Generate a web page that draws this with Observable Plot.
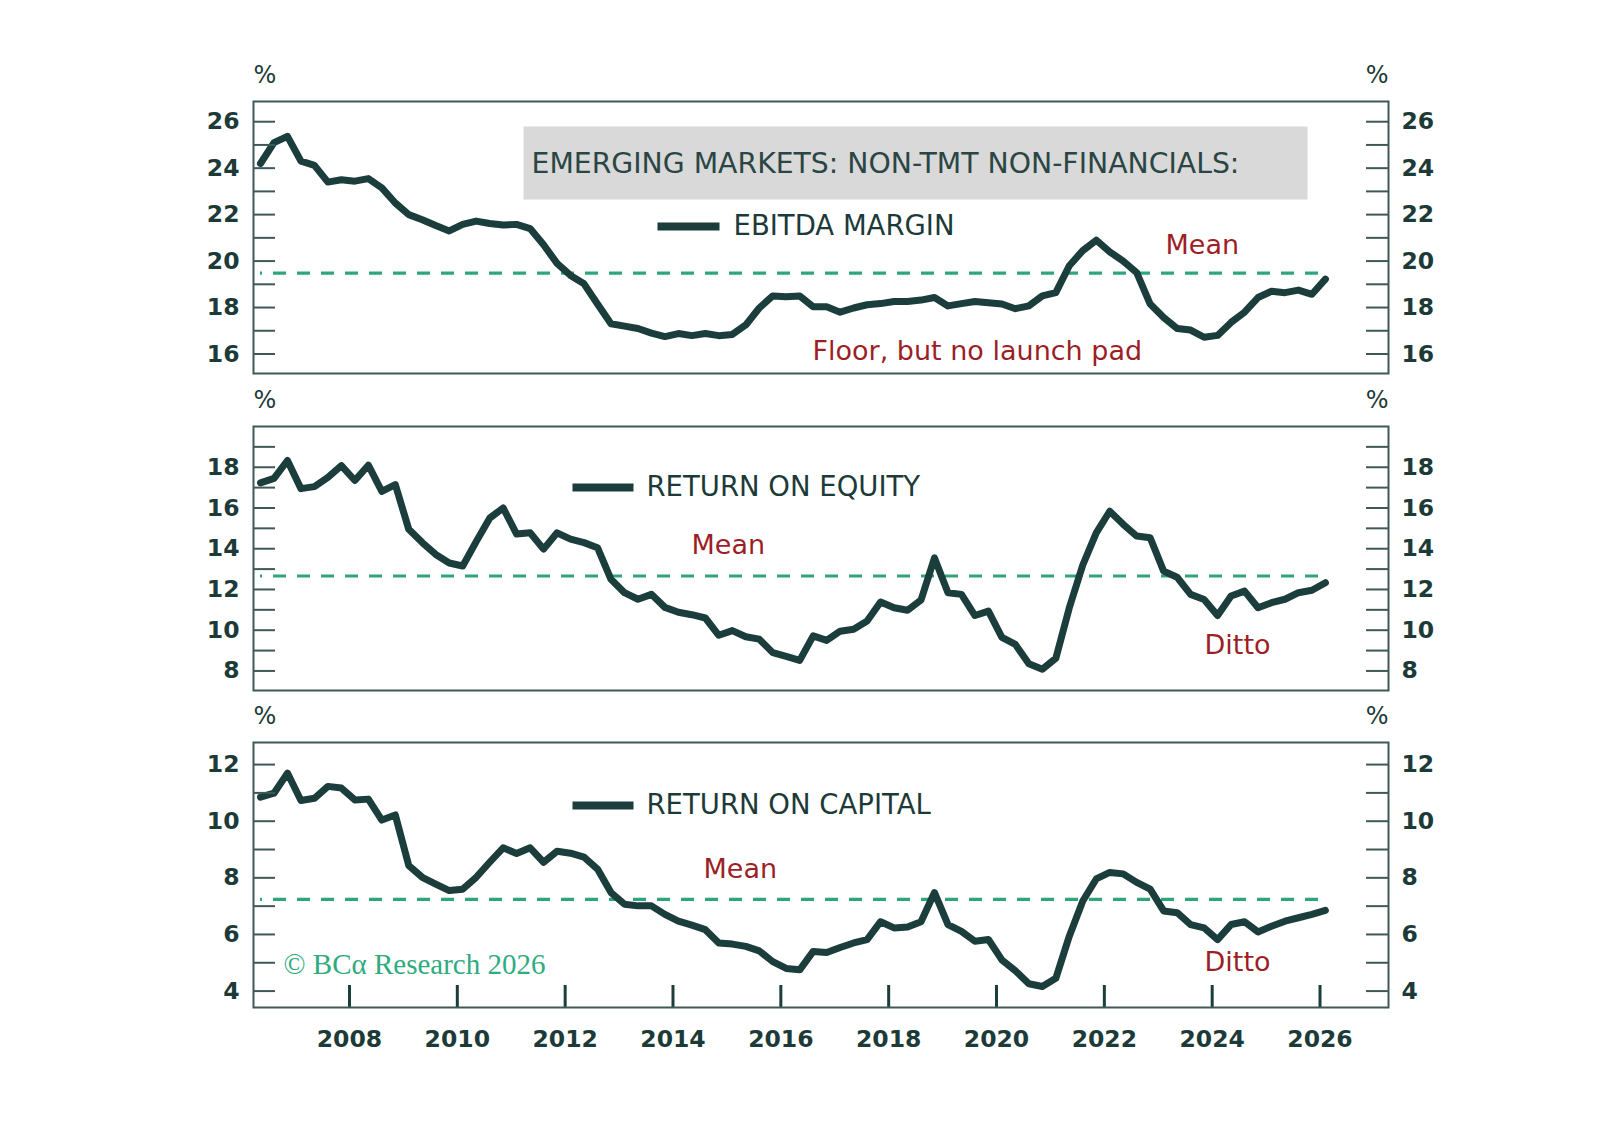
<!DOCTYPE html>
<html><head><meta charset="utf-8">
<script src="https://cdn.jsdelivr.net/npm/d3@7"></script>
<script src="https://cdn.jsdelivr.net/npm/@observablehq/plot@0.6"></script>
<style>
body{margin:0;background:#fff;}
#wrap{position:relative;width:1598px;height:1144px;background:#fff;overflow:hidden;}
#wrap svg{position:absolute;left:0;background:transparent;}
</style></head><body><div id="wrap"></div>
<script>
// ---- data (decimal years, quarterly) ----
const dates = [2006.35,2006.6,2006.85,2007.1,2007.35,2007.6,2007.85,2008.1,2008.35,2008.6,2008.85,2009.1,2009.35,2009.6,2009.85,2010.1,2010.35,2010.6,2010.85,2011.1,2011.35,2011.6,2011.85,2012.1,2012.35,2012.6,2012.85,2013.1,2013.35,2013.6,2013.85,2014.1,2014.35,2014.6,2014.85,2015.1,2015.35,2015.6,2015.85,2016.1,2016.35,2016.6,2016.85,2017.1,2017.35,2017.6,2017.85,2018.1,2018.35,2018.6,2018.85,2019.1,2019.35,2019.6,2019.85,2020.1,2020.35,2020.6,2020.85,2021.1,2021.35,2021.6,2021.85,2022.1,2022.35,2022.6,2022.85,2023.1,2023.35,2023.6,2023.85,2024.1,2024.35,2024.6,2024.85,2025.1,2025.35,2025.6,2025.85,2026.1];
const ebitdaMargin = [24.2,25.1,25.37,24.3,24.12,23.4,23.5,23.44,23.55,23.15,22.5,22.0,21.78,21.53,21.3,21.58,21.72,21.62,21.55,21.58,21.4,20.7,19.9,19.38,19.02,18.15,17.3,17.2,17.1,16.9,16.75,16.88,16.79,16.88,16.79,16.84,17.25,17.98,18.5,18.46,18.5,18.03,18.03,17.8,17.98,18.12,18.17,18.26,18.26,18.32,18.43,18.07,18.17,18.26,18.21,18.15,17.95,18.07,18.5,18.64,19.8,20.45,20.9,20.4,20.0,19.5,18.15,17.57,17.1,17.03,16.72,16.8,17.36,17.8,18.43,18.7,18.64,18.75,18.57,19.22];
const returnOnEquity = [17.23,17.45,18.33,16.95,17.05,17.5,18.08,17.35,18.1,16.82,17.15,14.95,14.3,13.72,13.3,13.15,14.35,15.5,16.0,14.72,14.78,13.98,14.78,14.47,14.3,14.05,12.5,11.84,11.52,11.76,11.12,10.88,10.76,10.6,9.75,9.98,9.68,9.56,8.9,8.72,8.52,9.72,9.5,9.95,10.05,10.45,11.38,11.1,10.98,11.48,13.55,11.84,11.76,10.72,10.94,9.65,9.3,8.35,8.08,8.62,11.1,13.2,14.78,15.84,15.2,14.62,14.54,12.9,12.6,11.76,11.51,10.72,11.68,11.92,11.1,11.35,11.52,11.84,11.96,12.33];
const returnOnCapital = [10.85,10.99,11.7,10.73,10.81,11.23,11.17,10.75,10.78,10.04,10.22,8.43,8.02,7.78,7.55,7.6,8.02,8.55,9.06,8.86,9.06,8.55,8.94,8.87,8.73,8.31,7.48,7.07,7.01,7.01,6.71,6.47,6.33,6.17,5.7,5.66,5.58,5.42,5.04,4.8,4.75,5.4,5.36,5.54,5.7,5.82,6.45,6.23,6.26,6.45,7.48,6.35,6.11,5.76,5.82,5.1,4.72,4.26,4.16,4.45,5.94,7.18,7.96,8.19,8.14,7.84,7.6,6.83,6.77,6.35,6.23,5.82,6.35,6.45,6.09,6.29,6.47,6.59,6.71,6.85];
const means = [19.48, 12.66, 7.24];

const yMinor1 = [16,17,18,19,20,21,22,23,24,25,26];
const yLabels1 = [16,18,20,22,24,26];
const yMinor2 = [8,9,10,11,12,13,14,15,16,17,18,19];
const yLabels2 = [8,10,12,14,16,18];
const yMinor3 = [4,5,6,7,8,9,10,11,12];
const yLabels3 = [4,6,8,10,12];
const xLabels = [2008,2010,2012,2014,2016,2018,2020,2022,2024,2026];

const chartTitle = "EMERGING MARKETS: NON-TMT NON-FINANCIALS:";
const seriesNames = ["EBITDA MARGIN", "RETURN ON EQUITY", "RETURN ON CAPITAL"];
const notes1 = ["Mean", "Floor, but no launch pad"];
const notes2 = ["Mean", "Ditto"];
const notes3 = ["Mean", "Ditto"];
const unitLabel = "%";
const credit = "© BCα Research 2026";

// ---- style ----
const W = 1598, ML = 253, MR = 210;
const FW = W - ML - MR;
const lineColor = "#1b3d3b", textColor = "#1c3a38", frameColor = "#3e5957";
const meanColor = "#2ea57b", redColor = "#9c1f27", boxColor = "#d9d9d9", creditColor = "#2fab80";
const sans = "DejaVu Sans", serif = "Liberation Serif";
const xDomain = [2006.22, 2027.27];
const tickFont = 23.5;

const wrap = document.getElementById("wrap");

function txt(s, o) {
  return Plot.text([s], Object.assign({text: d => d, frameAnchor: "top-left", textAnchor: "start", lineAnchor: "middle", fontFamily: sans, fontSize: 27.5, fill: textColor}, o));
}

function panel(cfg) {
  const FH = cfg.height - cfg.mt - cfg.mb;
  const marks = [];
  if (cfg.box) marks.push(Plot.frame({fill: boxColor, stroke: null, ...cfg.box}));
  // legend swatch
  marks.push(Plot.frame({fill: lineColor, stroke: null, ...cfg.swatch}));
  marks.push(Plot.ruleY([{y: cfg.mean, x1: dates[0], x2: dates[dates.length - 1]}], {y: "y", x1: "x1", x2: "x2", stroke: meanColor, strokeWidth: 3.2, strokeDasharray: "13,11", strokeDashoffset: 11}));
  marks.push(Plot.line(cfg.values, {x: dates, y: d => d, stroke: lineColor, strokeWidth: 7, strokeLinejoin: "round", strokeLinecap: "round"}));
  marks.push(Plot.tickY(cfg.minor, {y: d => d, insetRight: FW - 22, stroke: frameColor, strokeWidth: 2}));
  marks.push(Plot.tickY(cfg.minor, {y: d => d, insetLeft: FW - 22, stroke: frameColor, strokeWidth: 2}));
  marks.push(Plot.axisY(cfg.labels, {anchor: "left", tickSize: 0, tickPadding: 14, tickFormat: d => String(d), fontFamily: sans, fontWeight: "bold", fontSize: tickFont, fill: textColor, label: null}));
  marks.push(Plot.axisY(cfg.labels, {anchor: "right", tickSize: 0, tickPadding: 13, tickFormat: d => String(d), fontFamily: sans, fontWeight: "bold", fontSize: tickFont, fill: textColor, label: null}));
  if (cfg.xaxis) {
    marks.push(Plot.tickX(xLabels, {x: d => d, insetTop: FH - 22, stroke: lineColor, strokeWidth: 3}));
    marks.push(Plot.axisX(xLabels, {anchor: "bottom", tickSize: 0, tickPadding: 23, tickFormat: d => String(d), fontFamily: sans, fontWeight: "bold", fontSize: tickFont, fill: textColor, label: null}));
  }
  marks.push(Plot.frame({stroke: frameColor, strokeWidth: 2}));
  marks.push(txt(unitLabel, {dx: 0, dy: -26, fontSize: 24}));
  marks.push(txt(unitLabel, {frameAnchor: "top-right", textAnchor: "end", dx: 0, dy: -26, fontSize: 24}));
  for (const t of cfg.texts) marks.push(t);
  const svg = Plot.plot({
    width: W, height: cfg.height,
    marginLeft: ML, marginRight: MR, marginTop: cfg.mt, marginBottom: cfg.mb,
    x: {domain: xDomain, ...(cfg.xaxis ? {} : {axis: null})},
    y: {domain: cfg.ydomain},
    marks
  });
  svg.style.top = cfg.top + "px";
  wrap.append(svg);
}

// Panel 1: frame 101..373
panel({
  top: 50, height: 333, mt: 51, mb: 10, ydomain: [15.16, 26.87], values: ebitdaMargin, mean: means[0],
  minor: yMinor1, labels: yLabels1,
  box: {insetLeft: 270, insetRight: 81, insetTop: 25, insetBottom: 174},
  swatch: {insetLeft: 404, insetRight: 669, insetTop: 121, insetBottom: 143},
  texts: [
    txt(chartTitle, {dx: 278, dy: 62, fontSize: 28.3, fill: "#2a4543"}),
    txt(seriesNames[0], {dx: 480, dy: 125}),
    txt(notes1[0], {dx: 912, dy: 144, fill: redColor, fontSize: 27}),
    txt(notes1[1], {dx: 559, dy: 250, fill: redColor, fontSize: 27})
  ]
});

// Panel 2: frame 426..690
panel({
  top: 385, height: 315, mt: 41, mb: 10, ydomain: [7.04, 20], values: returnOnEquity, mean: means[1],
  minor: yMinor2, labels: yLabels2,
  swatch: {insetLeft: 319, insetRight: 755, insetTop: 57, insetBottom: 199},
  texts: [
    txt(seriesNames[1], {dx: 393, dy: 61}),
    txt(notes2[0], {dx: 438, dy: 119, fill: redColor, fontSize: 27}),
    txt(notes2[1], {dx: 951, dy: 219, fill: redColor, fontSize: 27})
  ]
});

// Panel 3: frame 742..1007
panel({
  top: 700, height: 362, mt: 42, mb: 55, ydomain: [3.42, 12.78], values: returnOnCapital, mean: means[2],
  minor: yMinor3, labels: yLabels3, xaxis: true,
  swatch: {insetLeft: 319, insetRight: 755, insetTop: 59, insetBottom: 198},
  texts: [
    txt(seriesNames[2], {dx: 393, dy: 63}),
    txt(notes3[0], {dx: 450, dy: 127, fill: redColor, fontSize: 27}),
    txt(notes3[1], {dx: 951, dy: 220, fill: redColor, fontSize: 27}),
    txt(credit, {dx: 30, dy: 222, fontFamily: serif, fontSize: 29, fill: creditColor})
  ]
});
</script>
</body></html>
